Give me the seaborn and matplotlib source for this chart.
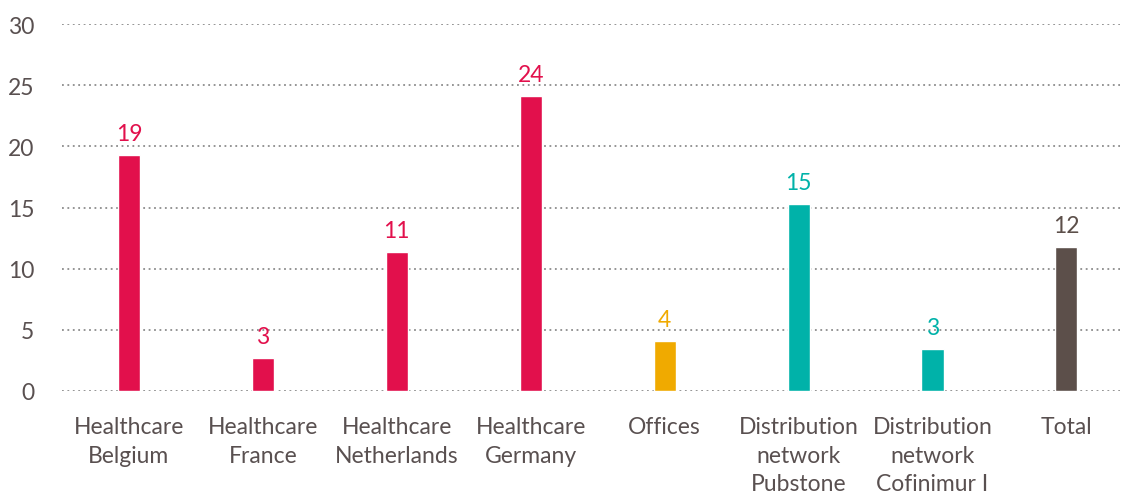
import pandas as pd
import matplotlib
matplotlib.use("Agg")
import matplotlib.pyplot as plt
import seaborn as sns

# === data ===
categories = [
    "Healthcare\nBelgium", "Healthcare\nFrance", "Healthcare\nNetherlands",
    "Healthcare\nGermany", "Offices", "Distribution\nnetwork\nPubstone",
    "Distribution\nnetwork\nCofinimur I", "Total",
]
values = [19.3, 2.7, 11.4, 24.1, 4.1, 15.3, 3.4, 11.8]
labels = ["19", "3", "11", "24", "4", "15", "3", "12"]
colors = ["#E2104C", "#E2104C", "#E2104C", "#E2104C",
          "#F0AA00", "#00B2A9", "#00B2A9", "#5C4F4A"]

TEXT = "#595050"

sns.set_style("white")
plt.rcParams["font.family"] = ["Lato", "DejaVu Sans"]

df = pd.DataFrame({"cat": categories, "val": values})

fig = plt.figure(figsize=(11.22, 5.02), dpi=100)
ax = fig.add_axes([62 / 1122, 110 / 502, 1058 / 1122, 367 / 502])

sns.barplot(data=df, x="cat", y="val", hue="cat", palette=colors,
            saturation=1, dodge=False, legend=False, width=0.165,
            ax=ax, zorder=3)

# value labels in the bar colour
for i, (v, lab, c) in enumerate(zip(values, labels, colors)):
    ax.text(i, v + 0.9, lab, ha="center", va="bottom", color=c, fontsize=16.5)

ax.set_ylim(0, 30)
ax.set_xlim(-0.5, 7.4)
ax.set_yticks(range(0, 31, 5))
ax.yaxis.grid(True, linestyle=(0, (1, 2)), color="#8c8c8c", linewidth=1.3)
ax.xaxis.grid(False)
sns.despine(ax=ax, left=True, bottom=True)

ax.tick_params(axis="both", length=0, labelsize=16.5, colors=TEXT)
ax.tick_params(axis="x", pad=18)
ax.tick_params(axis="y", pad=20)
for t in ax.get_xticklabels():
    t.set_linespacing(1.45)
ax.set_xlabel("")
ax.set_ylabel("")

plt.savefig("out.png", dpi=100)
plt.close()
